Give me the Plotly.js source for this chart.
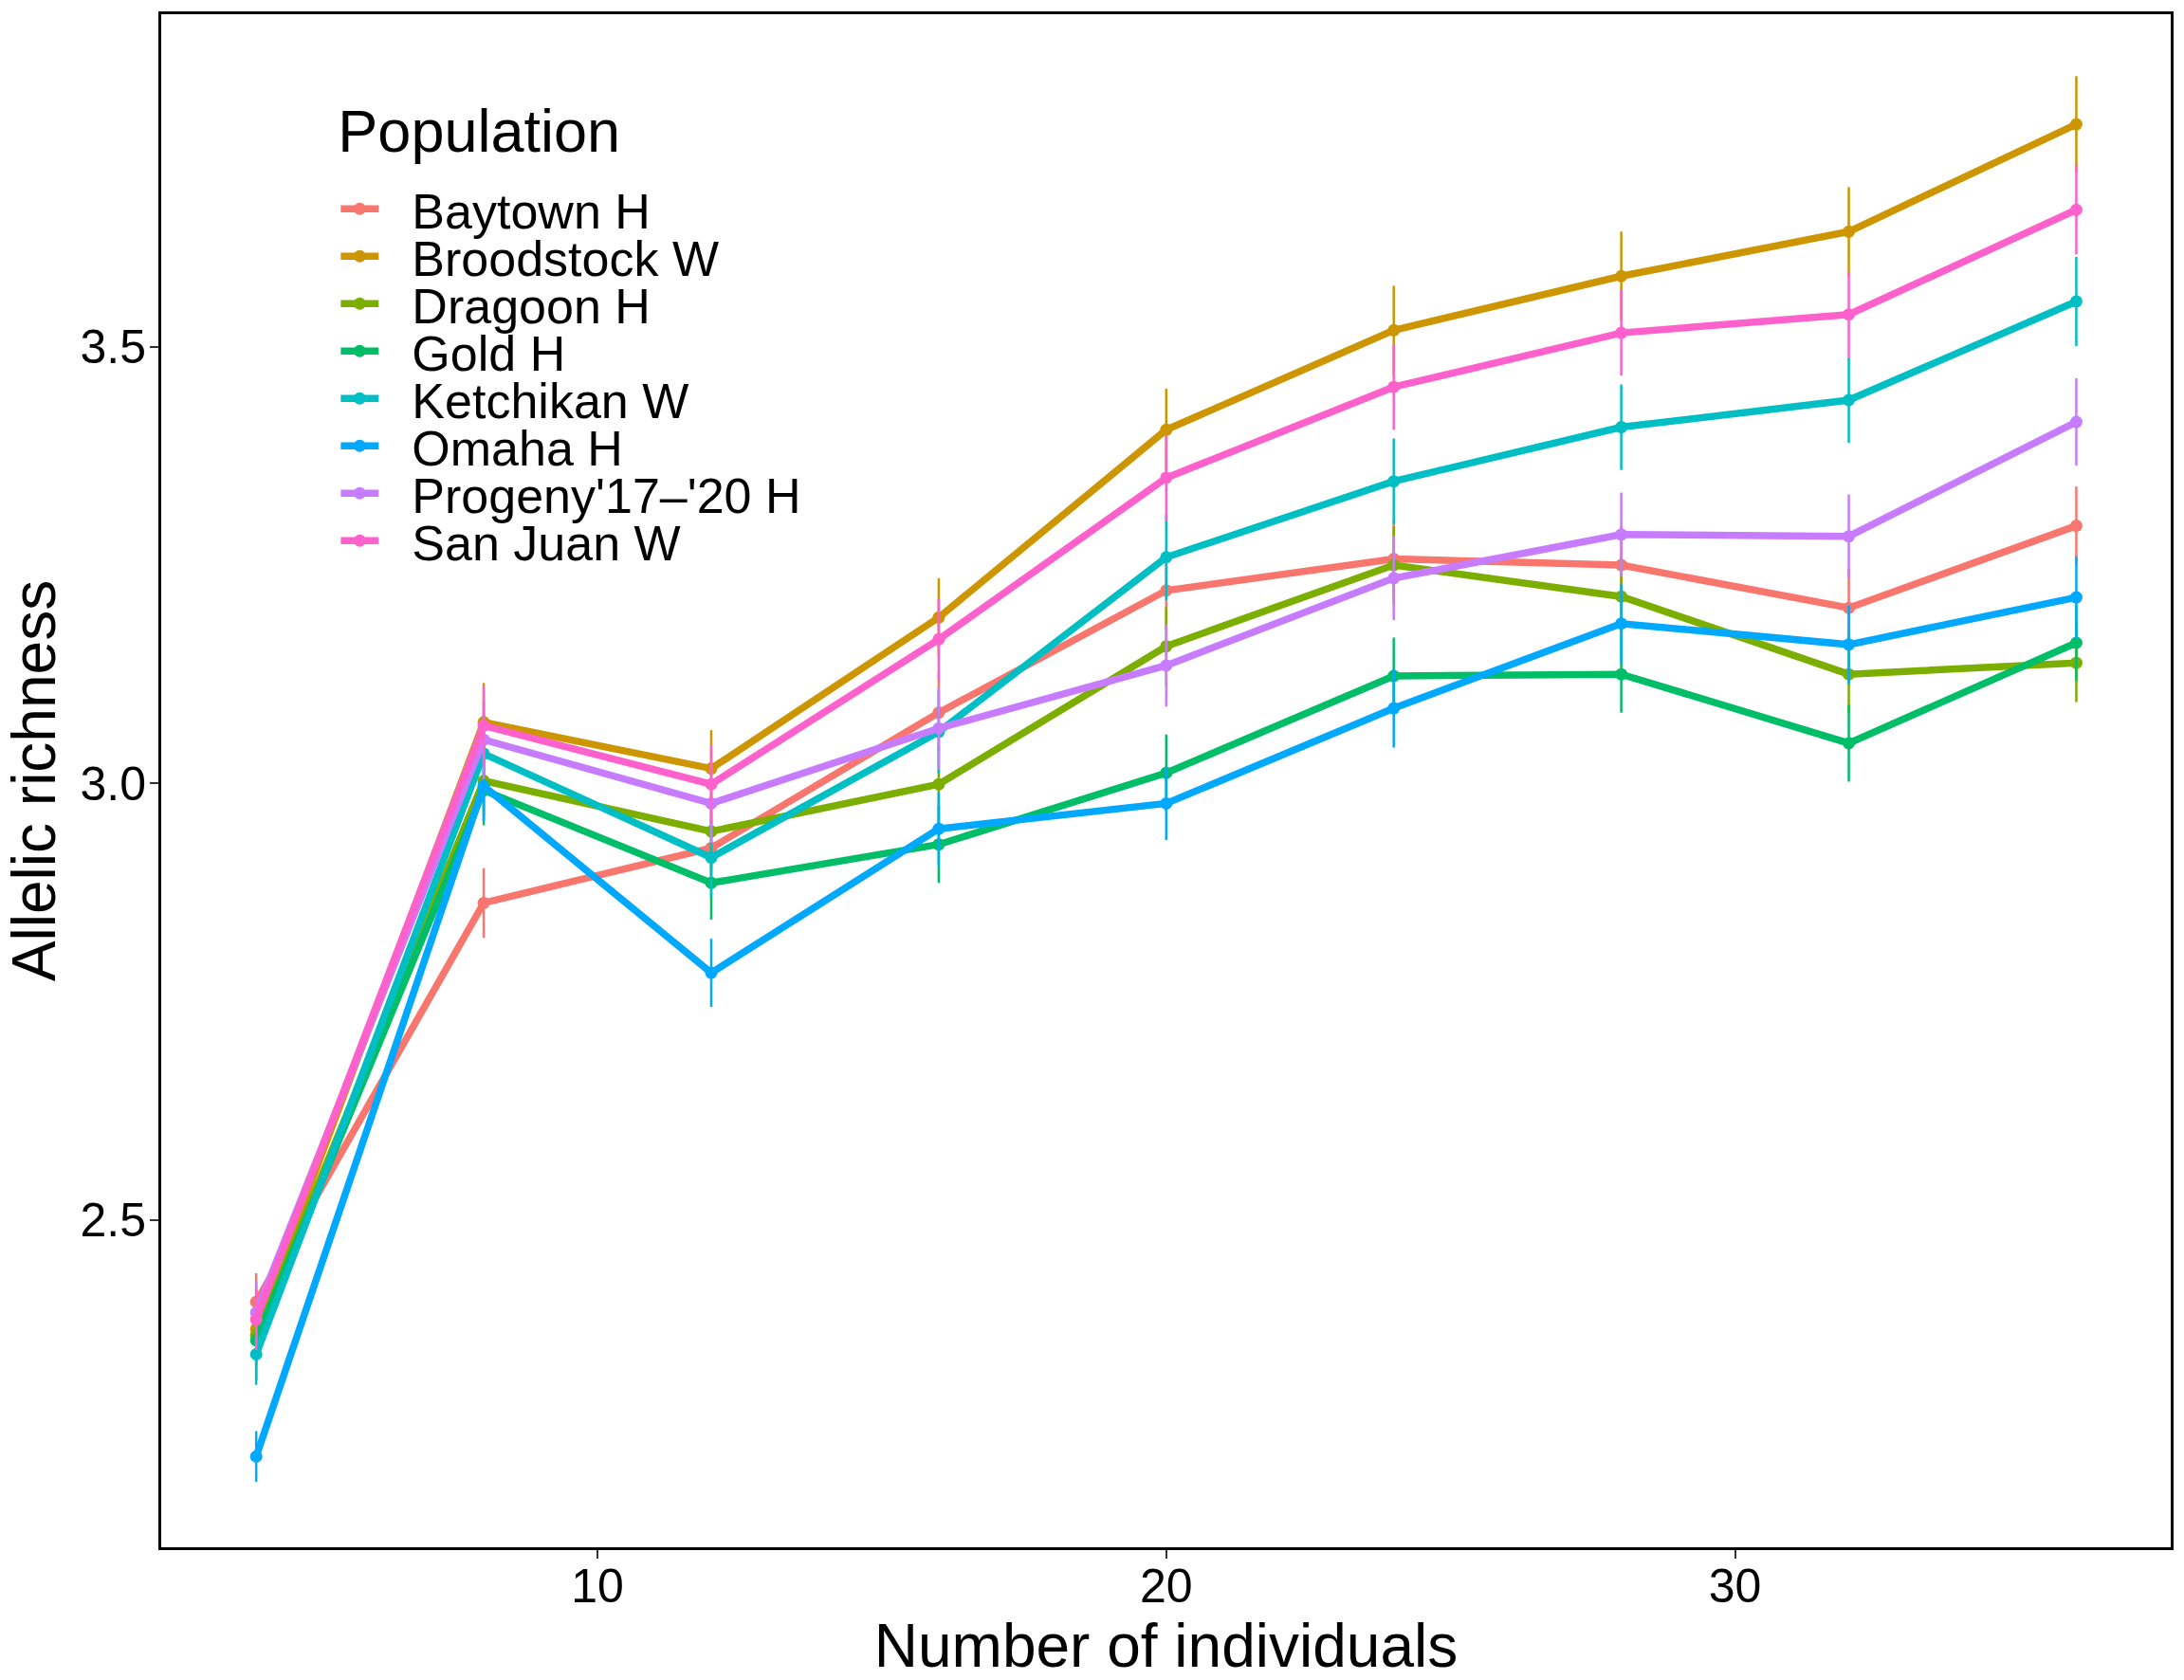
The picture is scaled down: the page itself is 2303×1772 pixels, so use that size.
<!DOCTYPE html>
<html>
<head>
<meta charset="utf-8">
<script src="https://cdn.plot.ly/plotly-3.0.1.min.js"></script>
<style>
html,body{margin:0;padding:0;background:#ffffff;}
#chart{width:2303px;height:1772px;}
</style>
</head>
<body>
<div id="chart"></div>
<script>
// ---- data ----
const sampleSizes = [4, 8, 12, 16, 20, 24, 28, 32, 36];

const populations = ["Baytown H", "Broodstock W", "Dragoon H", "Gold H",
                     "Ketchikan W", "Omaha H", "Progeny'17\u2013'20 H", "San Juan W"];

const seriesColors = ["#F8766D", "#CD9600", "#7CAE00", "#00BE67",
                      "#00BFC4", "#00A9FF", "#C77CFF", "#FF61CC"];

const baytownH    = [2.406, 2.863, 2.926, 3.081, 3.221, 3.257, 3.250, 3.201, 3.295];
const broodstockW = [2.375, 3.070, 3.017, 3.190, 3.405, 3.519, 3.581, 3.632, 3.755];
const dragoonH    = [2.368, 3.003, 2.945, 2.999, 3.157, 3.250, 3.214, 3.125, 3.138];
const goldH       = [2.362, 2.992, 2.886, 2.930, 3.012, 3.123, 3.125, 3.046, 3.161];
const ketchikanW  = [2.346, 3.034, 2.915, 3.059, 3.259, 3.346, 3.408, 3.439, 3.552];
const omahaH      = [2.229, 2.997, 2.783, 2.948, 2.977, 3.086, 3.183, 3.159, 3.213];
const progenyH    = [2.394, 3.050, 2.977, 3.063, 3.135, 3.235, 3.285, 3.283, 3.414];
const sanJuanW    = [2.386, 3.066, 2.999, 3.165, 3.350, 3.454, 3.516, 3.537, 3.657];

const baytownErr    = [0.033, 0.040, 0.042, 0.045, 0.045, 0.045, 0.045, 0.045, 0.045];
const broodstockErr = [0.035, 0.045, 0.044, 0.045, 0.047, 0.051, 0.051, 0.051, 0.055];
const dragoonErr    = [0.035, 0.040, 0.042, 0.045, 0.045, 0.045, 0.045, 0.045, 0.045];
const goldErr       = [0.046, 0.040, 0.042, 0.044, 0.044, 0.044, 0.044, 0.044, 0.044];
const ketchikanErr  = [0.035, 0.045, 0.045, 0.048, 0.049, 0.049, 0.049, 0.049, 0.051];
const omahaErr      = [0.029, 0.040, 0.039, 0.042, 0.042, 0.045, 0.045, 0.045, 0.047];
const progenyErr    = [0.035, 0.045, 0.045, 0.047, 0.047, 0.048, 0.048, 0.048, 0.050];
const sanJuanErr    = [0.035, 0.045, 0.045, 0.047, 0.049, 0.049, 0.049, 0.049, 0.051];

const xTickValues = [10, 20, 30];
const yTickValues = [2.5, 3.0, 3.5];

const richness = [baytownH, broodstockW, dragoonH, goldH, ketchikanW, omahaH, progenyH, sanJuanW];
const errors = [baytownErr, broodstockErr, dragoonErr, goldErr, ketchikanErr, omahaErr, progenyErr, sanJuanErr];

// ---- traces ----
const FONT = "Liberation Sans, Arial, Helvetica, sans-serif";
const traces = populations.map((name, i) => ({
  type: "scatter",
  mode: "lines+markers",
  name: name,
  x: sampleSizes,
  y: richness[i],
  line: {color: seriesColors[i], width: 7.5},
  marker: {color: seriesColors[i], size: 13},
  error_y: {type: "data", array: errors[i], visible: true,
            color: seriesColors[i], thickness: 2.5, width: 0}
}));

const layout = {
  width: 2303,
  height: 1772,
  paper_bgcolor: "#ffffff",
  plot_bgcolor: "#ffffff",
  margin: {l: 170, r: 14, t: 15, b: 140, pad: 0},
  font: {family: FONT, color: "#000000", size: 50},
  showlegend: true,
  legend: {
    x: 0.087, y: 0.961, xanchor: "left", yanchor: "top",
    bgcolor: "rgba(0,0,0,0)",
    font: {family: FONT, size: 52, color: "#000000"},
    title: {text: "Population", font: {family: FONT, size: 63, color: "#000000"}},
    itemwidth: 40,
    tracegroupgap: 0
  },
  xaxis: {
    range: [2.33, 37.66],
    tickvals: xTickValues,
    ticks: "outside", ticklen: 9, tickwidth: 2, tickcolor: "#333333",
    ticklabelstandoff: -14,
    tickfont: {family: FONT, size: 50, color: "#000000"},
    showline: true, mirror: true, linecolor: "#000000", linewidth: 3,
    showgrid: false, zeroline: false,
    title: {text: "Number of individuals", font: {family: FONT, size: 64, color: "#000000"}, standoff: 0}
  },
  yaxis: {
    range: [2.125, 3.881],
    tickvals: yTickValues,
    tickformat: ".1f",
    ticks: "outside", ticklen: 9, tickwidth: 2, tickcolor: "#333333",
    ticklabelstandoff: -6,
    tickfont: {family: FONT, size: 50, color: "#000000"},
    showline: true, mirror: true, linecolor: "#000000", linewidth: 3,
    showgrid: false, zeroline: false,
    title: {text: "Allelic richness", font: {family: FONT, size: 64, color: "#000000"}, standoff: 12}
  }
};

Plotly.newPlot("chart", traces, layout, {displayModeBar: false, staticPlot: true}).then(gd => {
  // tighten the legend rows to the spacing of the reference and leave the
  // same gap between key and label as the reference
  const box = gd.querySelector(".legend .scrollbox");
  if (box) box.removeAttribute("clip-path");
  const items = gd.querySelectorAll(".legend .traces");
  if (!items.length) return;
  const m0 = /translate\(([-\d.]+),\s*([-\d.]+)\)/.exec(items[0].getAttribute("transform") || "");
  if (!m0) return;
  const x0 = parseFloat(m0[1]);
  const y0 = parseFloat(m0[2]) + 20;
  const ROW = 50;
  items.forEach((el, i) => {
    el.setAttribute("transform", "translate(" + x0 + "," + (y0 + i * ROW) + ")");
    const txt = el.querySelector("text.legendtext");
    if (txt) {
      const tx = parseFloat(txt.getAttribute("x") || "0");
      txt.setAttribute("x", tx + 30);
      txt.querySelectorAll("tspan[x]").forEach(ts => {
        ts.setAttribute("x", parseFloat(ts.getAttribute("x")) + 30);
      });
    }
  });
});
</script>
</body>
</html>
